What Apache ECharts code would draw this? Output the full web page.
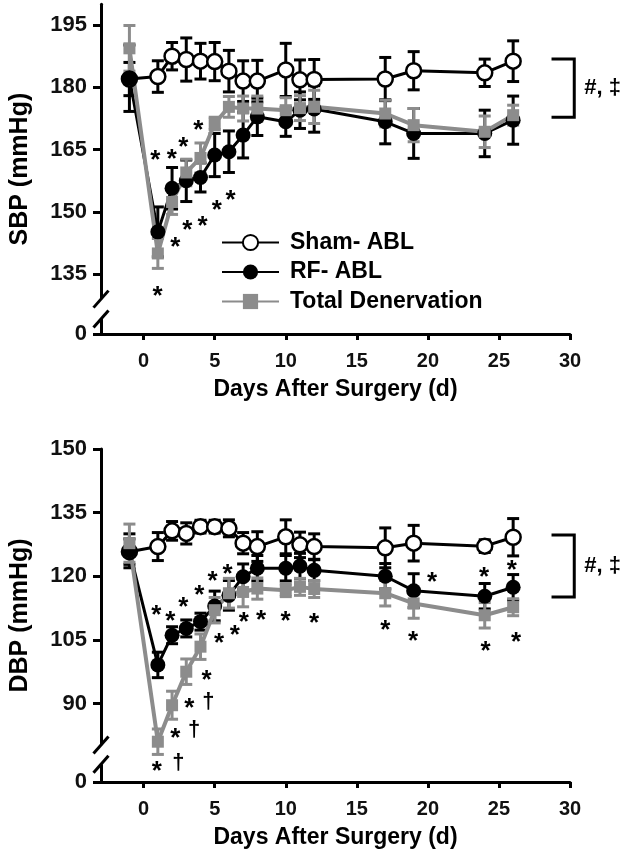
<!DOCTYPE html>
<html>
<head>
<meta charset="utf-8">
<style>
  html, body { margin: 0; padding: 0; background: #fff; }
  #chart { width: 629px; height: 853px; }
</style>
<script src="https://cdn.jsdelivr.net/npm/echarts@6/dist/echarts.min.js"></script>
</head>
<body>
<div id="chart"></div>
<script>
// days after surgery
const days = [-1, 1, 2, 3, 4, 5, 6, 7, 8, 10, 11, 12, 17, 19, 24, 26];
const names = ["Sham- ABL", "RF- ABL", "Total Denervation"];

// SBP (mmHg), mean and error
const sbpSham = [182, 182.6, 187.5, 186.7, 186.3, 186.2, 183.9, 181.5, 181.5, 184.2, 181.8, 181.9, 182, 184, 183.5, 186.3];
const sbpShamErr = [4, 3.8, 3.3, 5.2, 4.3, 4.6, 5, 4.9, 5, 6.4, 4.8, 4.8, 5.2, 4.6, 3.3, 4.9];
const sbpRf = [182.2, 145.2, 155.7, 157.5, 158.3, 163.7, 164.5, 168.5, 172.9, 171.7, 174.5, 174.8, 171.7, 168.9, 168.9, 172.1];
const sbpRfErr = [8, 6, 5, 5, 3.5, 5.2, 5, 5.5, 4.5, 3.5, 4.4, 5.6, 5.3, 6, 5.6, 5.8];
const sbpTd = [189.4, 140, 152.4, 159.5, 163, 171.3, 175.3, 174.9, 174.9, 174.5, 175, 175.3, 173.7, 170.9, 169.3, 173.3];
const sbpTdErr = [5.5, 3.6, 3, 3.2, 3.6, 1.5, 2.5, 3, 3, 3, 3, 4, 3.2, 4, 3.8, 2.4];

// DBP (mmHg), mean and error
const dbpSham = [125.8, 127, 130.7, 130.1, 131.7, 131.7, 131.3, 127.8, 127, 129.3, 127.4, 127, 126.7, 127.8, 127.1, 129.2];
const dbpShamErr = [3, 3.3, 2.2, 2.5, 1.5, 1.5, 2, 2.5, 3.5, 4, 3, 3, 4.7, 4.2, 1.5, 4.4];
const dbpRf = [126, 99.1, 106.1, 107.7, 109.3, 113, 115.5, 119.9, 121.9, 121.9, 122.4, 121.4, 120, 116.6, 115.3, 117.4];
const dbpRfErr = [4, 3, 2, 2, 2, 3.5, 3.5, 3, 3, 3, 3, 2.5, 3, 4, 3, 3];
const dbpTd = [127.8, 81, 89.6, 97.5, 103.4, 112, 116, 116.3, 117.1, 116.7, 117.5, 117, 116, 113.6, 110.8, 112.7];
const dbpTdErr = [4.5, 3, 3.3, 3, 3, 3, 3.5, 3.5, 2.5, 1.5, 2, 2, 3, 3.5, 3, 2];

// axis ticks
const xTicks = [0, 5, 10, 15, 20, 25, 30];
const sbpZero = 120.6; // where the "0" of the broken axis sits
const sbpTicks = [sbpZero, 135, 150, 165, 180, 195];
const dbpZero = 71.5;
const dbpTicks = [dbpZero, 90, 105, 120, 135, 150];

// significance marks [day, mmHg]
const sbpStars = [[0.82, 163.9], [1.98, 164.2], [2.8, 167.2], [3.85, 171.2], [2.22, 143], [3.08, 147.1],
  [4.15, 148], [5.14, 151.9], [6.12, 154.3], [0.98, 131.2]];
const dbpStars = [[0.89, 112.4], [1.87, 110.8], [2.8, 114.2], [3.92, 117.1], [4.85, 120.3], [5.9, 122.1],
  [5.31, 105.7], [6.41, 107.7], [7.04, 110.6], [8.27, 111.1], [9.98, 110.8], [12, 110.4],
  [4.43, 97.1], [3.22, 90.4], [2.22, 83.3], [0.93, 75.5],
  [20.3, 120], [23.96, 121.3], [25.9, 123], [17, 108.9], [18.95, 106.1], [24.06, 103.8], [26.2, 105.9]];
const dbpDaggers = [[4.55, 90.4], [3.55, 83.7], [2.45, 75.9]];

// group brackets [xLeft, yTop, xRight, yBottom] and axis breaks [x, upper, lower]
const sbpBracket = [[28.7, 186.8, 30.3, 172.8]];
const dbpBracket = [[28.7, 129.7, 30.3, 115.1]];
const sbpBreak = [[-3, 129, 124.2]];
const dbpBreak = [[-3, 80.2, 75.7]];

const FONT = "'Liberation Sans', Arial, sans-serif";
const GRAY = "#8c8c8c";

function pairs(vals, errs) {
  return days.map((d, i) => [d, vals[i], errs[i]]);
}

function errorBars(idx, vals, errs, color) {
  return {
    type: "custom",
    xAxisIndex: idx,
    yAxisIndex: idx,
    silent: true,
    data: pairs(vals, errs),
    renderItem(params, api) {
      const x = api.value(0), y = api.value(1), e = api.value(2);
      const t = api.coord([x, y + e]);
      const b = api.coord([x, y - e]);
      const w = 6;
      const st = { stroke: color, lineWidth: 3 };
      return {
        type: "group",
        children: [
          { type: "line", shape: { x1: t[0], y1: t[1], x2: b[0], y2: b[1] }, style: st },
          { type: "line", shape: { x1: t[0] - w, y1: t[1], x2: t[0] + w, y2: t[1] }, style: st },
          { type: "line", shape: { x1: b[0] - w, y1: b[1], x2: b[0] + w, y2: b[1] }, style: st },
        ],
      };
    },
  };
}

function lineSeries(idx, k, vals) {
  const styles = [
    { symbol: "circle", symbolSize: 15, color: "#000", item: { color: "#fff", borderColor: "#000", borderWidth: 2.5 }, width: 3 },
    { symbol: "circle", symbolSize: 15, color: "#000", item: { color: "#000" }, width: 3 },
    { symbol: "rect", symbolSize: 12, color: GRAY, item: { color: GRAY }, width: 4 },
  ][k];
  return {
    type: "line",
    name: names[k],
    xAxisIndex: idx,
    yAxisIndex: idx,
    data: days.map((d, i) => [d, vals[i]]),
    symbol: styles.symbol,
    symbolSize: styles.symbolSize,
    showAllSymbol: true,
    lineStyle: { color: styles.color, width: styles.width },
    itemStyle: styles.item,
  };
}

function marks(idx, pts, ch, size, dy) {
  return {
    type: "custom",
    xAxisIndex: idx,
    yAxisIndex: idx,
    silent: true,
    clip: false,
    data: pts,
    renderItem(params, api) {
      const p = api.coord([api.value(0), api.value(1)]);
      return {
        type: "text",
        x: p[0],
        y: p[1] + dy,
        style: { text: ch, fill: "#000", fontSize: size, fontWeight: "bold", fontFamily: FONT, align: "center", verticalAlign: "middle" },
      };
    },
  };
}

function bracket(idx, data) {
  return {
    type: "custom",
    xAxisIndex: idx,
    yAxisIndex: idx,
    silent: true,
    clip: false,
    data: data,
    renderItem(params, api) {
      const a = api.coord([api.value(0), api.value(1)]);
      const b = api.coord([api.value(2), api.value(3)]);
      return {
        type: "group",
        children: [
          { type: "polyline", shape: { points: [[a[0], a[1]], [b[0], a[1]], [b[0], b[1]], [a[0], b[1]]] },
            style: { stroke: "#000", lineWidth: 3, fill: null } },
          { type: "text", x: b[0] + 10, y: (a[1] + b[1]) / 2,
            style: { text: "#, ‡", fill: "#000", fontSize: 22, fontWeight: "bold", fontFamily: FONT, align: "left", verticalAlign: "middle" } },
        ],
      };
    },
  };
}

function axisBreak(idx, data) {
  return {
    type: "custom",
    xAxisIndex: idx,
    yAxisIndex: idx,
    silent: true,
    clip: false,
    data: data,
    renderItem(params, api) {
      const a = api.coord([api.value(0), api.value(1)]);
      const b = api.coord([api.value(0), api.value(2)]);
      const sl = { stroke: "#000", lineWidth: 3 };
      return {
        type: "group",
        children: [
          { type: "rect", shape: { x: a[0] - 5, y: a[1], width: 10, height: b[1] - a[1] }, style: { fill: "#fff" } },
          { type: "line", shape: { x1: a[0] - 7.5, y1: a[1] + 8.5, x2: a[0] + 7.5, y2: a[1] - 8.5 }, style: sl },
          { type: "line", shape: { x1: b[0] - 7.5, y1: b[1] + 8.5, x2: b[0] + 7.5, y2: b[1] - 8.5 }, style: sl },
        ],
      };
    },
  };
}

function xAxis(idx) {
  return {
    type: "value",
    gridIndex: idx,
    min: -3,
    max: 30,
    name: "Days After Surgery (d)",
    nameLocation: "middle",
    nameGap: 44,
    nameTextStyle: { fontSize: 23, fontWeight: "bold", fontFamily: FONT, color: "#000" },
    splitLine: { show: false },
    axisLine: { onZero: false, lineStyle: { color: "#000", width: 3 } },
    axisTick: { customValues: xTicks, length: 6, lineStyle: { width: 3 } },
    axisLabel: { customValues: xTicks, margin: 17, fontSize: 20, fontWeight: "bold", fontFamily: FONT, color: "#111" },
  };
}

function yAxis(idx, name, zero, max, ticks) {
  return {
    type: "value",
    gridIndex: idx,
    min: zero,
    max: max,
    name: name,
    nameLocation: "middle",
    nameGap: 68,
    nameTextStyle: { fontSize: 25, fontWeight: "bold", fontFamily: FONT, color: "#000" },
    splitLine: { show: false },
    axisLine: { show: true, onZero: false, lineStyle: { color: "#000", width: 3 } },
    axisTick: { customValues: ticks, length: 8, lineStyle: { width: 3 } },
    axisLabel: {
      customValues: ticks, margin: 14, fontSize: 22, fontWeight: "bold", fontFamily: FONT, color: "#111",
      formatter: (v) => (v === zero ? "0" : String(v)),
    },
  };
}

const chart = echarts.init(document.getElementById("chart"));
chart.setOption({
  animation: false,
  backgroundColor: "#fff",
  grid: [
    { left: 97, width: 473, top: 4.3, height: 329.7 },
    { left: 97, width: 473, top: 449, height: 333 },
  ],
  xAxis: [xAxis(0), xAxis(1)],
  yAxis: [yAxis(0, "SBP (mmHg)", sbpZero, 200, sbpTicks), yAxis(1, "DBP (mmHg)", dbpZero, 150, dbpTicks)],
  legend: {
    data: names,
    orient: "vertical",
    left: 221,
    top: 231,
    padding: 0,
    itemWidth: 57,
    itemHeight: 19,
    itemGap: 6.5,
    selectedMode: false,
    textStyle: { fontSize: 23, fontWeight: "bold", fontFamily: FONT, color: "#000", padding: [0, 0, 0, 6] },
  },
  series: [
    errorBars(0, sbpSham, sbpShamErr, "#000"),
    lineSeries(0, 0, sbpSham),
    errorBars(0, sbpRf, sbpRfErr, "#000"),
    lineSeries(0, 1, sbpRf),
    errorBars(0, sbpTd, sbpTdErr, GRAY),
    lineSeries(0, 2, sbpTd),
    marks(0, sbpStars, "*", 26, 7),
    bracket(0, sbpBracket),
    axisBreak(0, sbpBreak),

    errorBars(1, dbpSham, dbpShamErr, "#000"),
    lineSeries(1, 0, dbpSham),
    errorBars(1, dbpRf, dbpRfErr, "#000"),
    lineSeries(1, 1, dbpRf),
    errorBars(1, dbpTd, dbpTdErr, GRAY),
    lineSeries(1, 2, dbpTd),
    marks(1, dbpStars, "*", 26, 7),
    marks(1, dbpDaggers, "†", 22, 0),
    bracket(1, dbpBracket),
    axisBreak(1, dbpBreak),
  ],
});
</script>
</body>
</html>
